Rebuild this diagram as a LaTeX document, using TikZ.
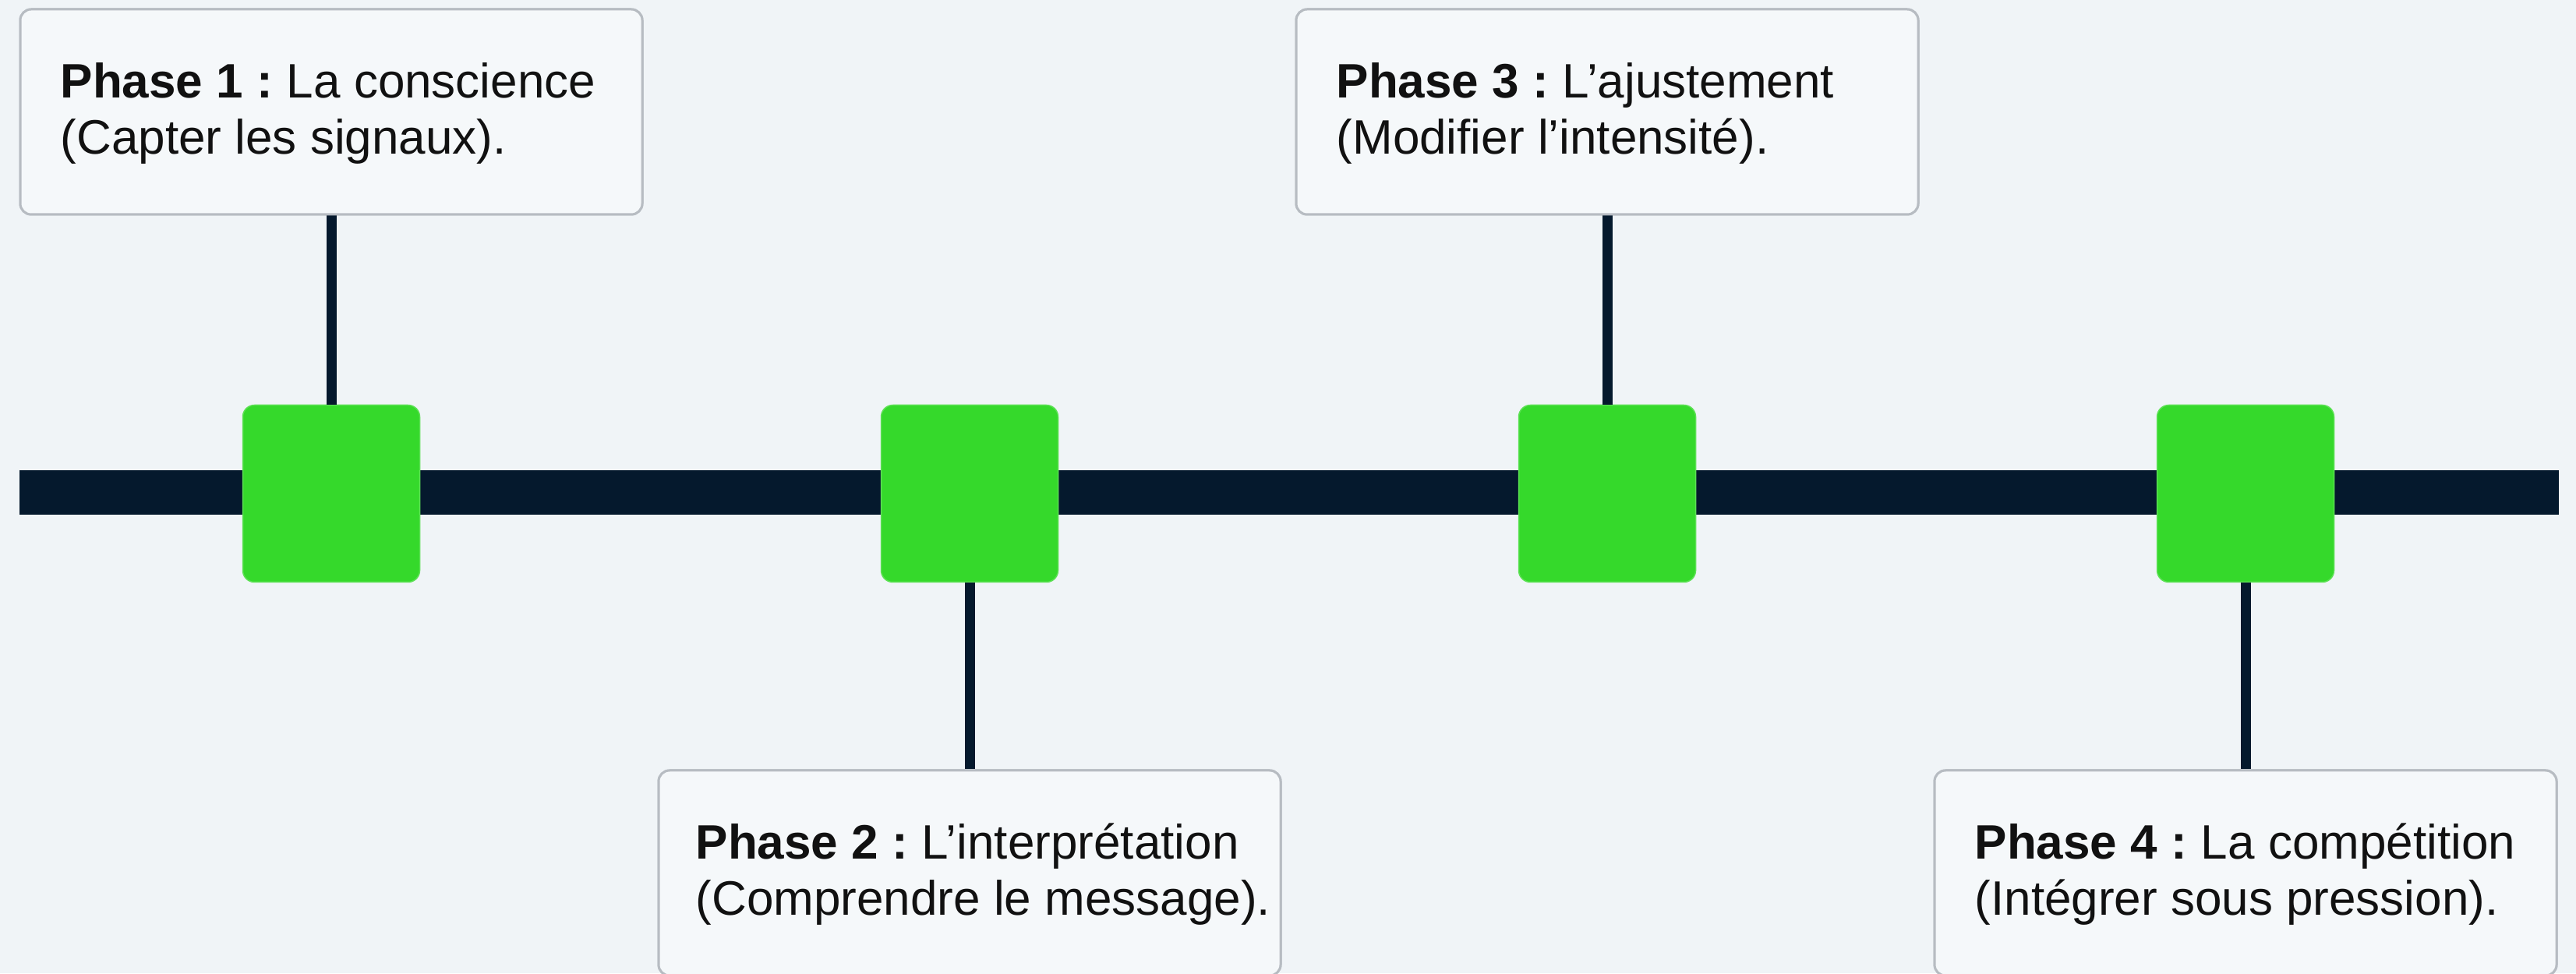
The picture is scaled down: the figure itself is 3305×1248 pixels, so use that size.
\documentclass[tikz,border=0pt]{standalone}
\usepackage{fontspec}
\setmainfont{Liberation Sans}
\definecolor{bgc}{HTML}{F0F4F7}
\definecolor{boxfill}{HTML}{F5F8FA}
\definecolor{boxline}{HTML}{B7BCC2}
\definecolor{navy}{HTML}{05192D}
\definecolor{mygreen}{HTML}{35D92B}
\definecolor{txtc}{HTML}{111111}
\newcommand{\phasehead}[1]{\textbf{Phase #1 :}\hspace{-5pt} }
\tikzset{
  phasebox/.style={draw=boxline, line width=3pt, fill=boxfill, rounded corners=14pt,
    minimum width=798pt, minimum height=263pt, inner sep=0pt},
  phasetxt/.style={anchor=west, align=left, inner sep=0pt, text=txtc,
    font=\fontsize{62}{72}\selectfont},
  greensq/.style={fill=mygreen, draw=mygreen!80!white, line width=1.5pt, rounded corners=15pt,
    minimum width=227pt, minimum height=227pt, inner sep=0pt},
  barline/.style={draw=navy, line width=57pt},
  connline/.style={draw=navy, line width=13pt}
}
\begin{document}
\begin{tikzpicture}[x=1pt,y=1pt]
\fill[bgc] (0,0) rectangle (3305,1248);
\useasboundingbox (0,0) rectangle (3305,1248);
% main bar
\coordinate (barL) at (25,616);
\coordinate (barR) at (3283,616);
\draw[barline] (barL) -- (barR);
% boxes
\node[phasebox] (b1) at (425,1104.5) {};
\node[phasebox] (b2) at (1244,128.5) {};
\node[phasebox] (b3) at (2062,1104.5) {};
\node[phasebox] (b4) at (2881,128.5) {};
% green squares
\node[greensq] (g1) at (425,615) {};
\node[greensq] (g2) at (1244,615) {};
\node[greensq] (g3) at (2062,615) {};
\node[greensq] (g4) at (2881,615) {};
% connectors
\draw[connline] (b1.south) -- (g1.north);
\draw[connline] (g2.south) -- (b2.north);
\draw[connline] (b3.south) -- (g3.north);
\draw[connline] (g4.south) -- (b4.north);
% redraw boxes' borders over connector ends
\node[phasebox] at (b1) {};
\node[phasebox] at (b2) {};
\node[phasebox] at (b3) {};
\node[phasebox] at (b4) {};
% texts
\node[phasetxt] (t1) at ([xshift=53pt,yshift=-2pt]b1.west) {\phasehead{1}La conscience\\(Capter les signaux).};
\node[phasetxt] (t2) at ([xshift=49pt,yshift=-2pt]b2.west) {\phasehead{2}L’interprétation\\(Comprendre le message).};
\node[phasetxt] (t3) at ([xshift=53pt,yshift=-2pt]b3.west) {\phasehead{3}L’ajustement\\(Modifier l’intensité).};
\node[phasetxt] (t4) at ([xshift=53pt,yshift=-2pt]b4.west) {\phasehead{4}La compétition\\(Intégrer sous pression).};
\end{tikzpicture}
\end{document}
